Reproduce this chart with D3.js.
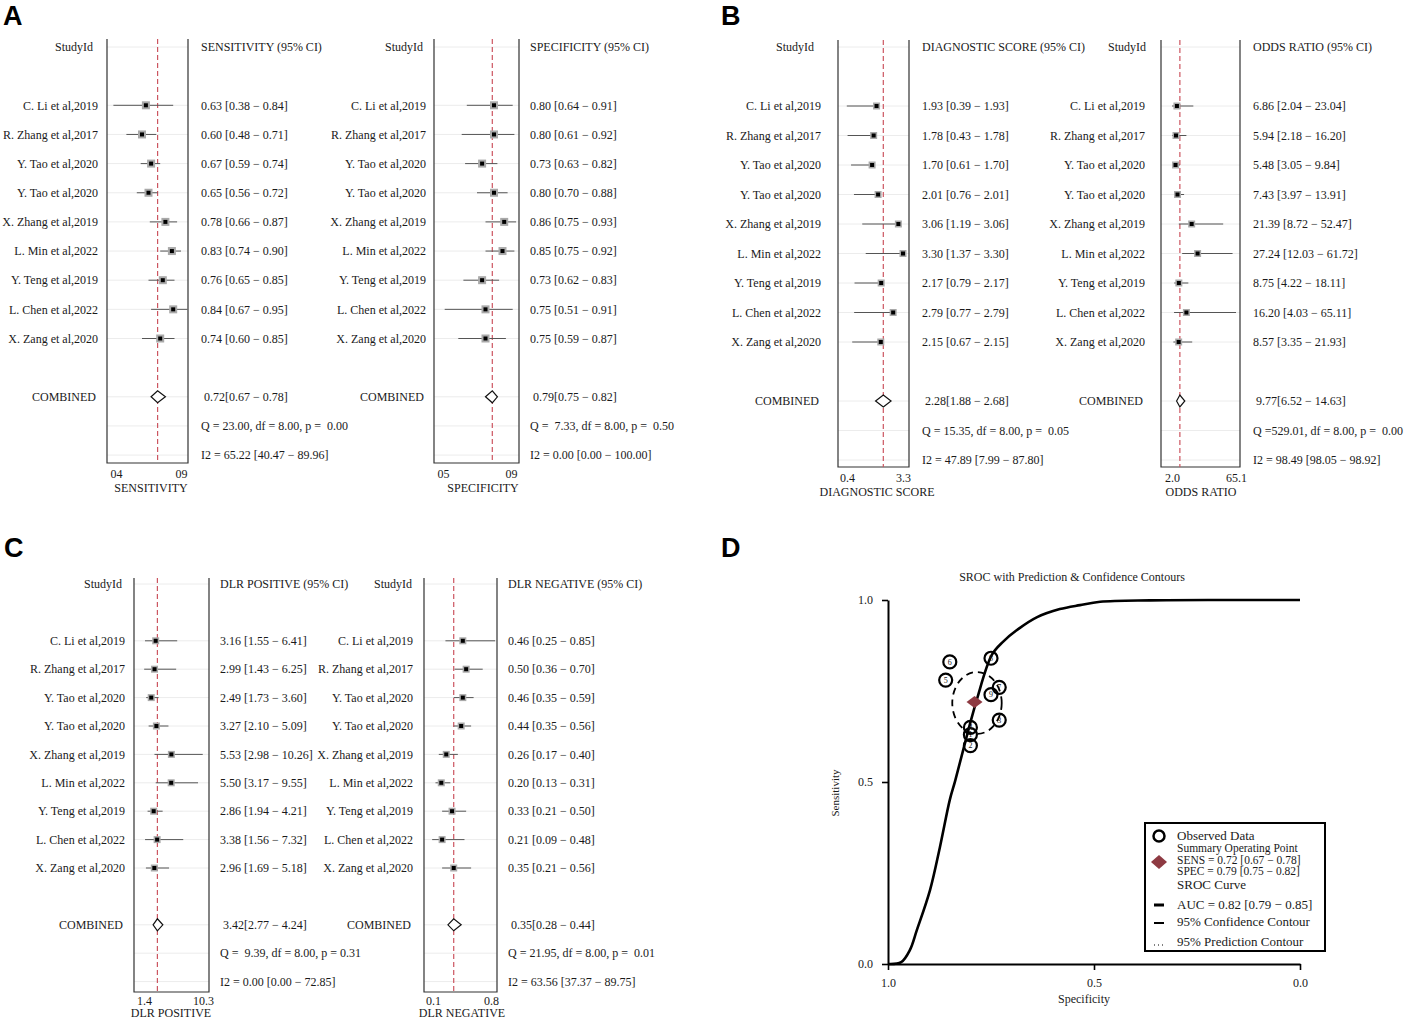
<!DOCTYPE html>
<html>
<head>
<meta charset="utf-8">
<script src="https://cdn.jsdelivr.net/npm/d3@7"></script>
<style>
  body { margin: 0; background: #fff; }
  svg text { font-family: "Liberation Serif", "Times New Roman", serif; fill: #1a1a1a; }
  svg text.pre { white-space: pre; }
  svg text.letter { font-family: "Liberation Sans", Arial, sans-serif; font-weight: bold; fill: #000; }
</style>
</head>
<body>
<svg id="chart" width="1417" height="1024"></svg>
<script>
// ---- data ----
const studies = ["C. Li et al,2019", "R. Zhang et al,2017", "Y. Tao et al,2020", "Y. Tao et al,2020",
  "X. Zhang et al,2019", "L. Min et al,2022", "Y. Teng et al,2019", "L. Chen et al,2022", "X. Zang et al,2020"];

// [estimate, lower, upper]
const sensitivity = [[0.63,0.38,0.84],[0.60,0.48,0.71],[0.67,0.59,0.74],[0.65,0.56,0.72],[0.78,0.66,0.87],
  [0.83,0.74,0.90],[0.76,0.65,0.85],[0.84,0.67,0.95],[0.74,0.60,0.85]];
const specificity = [[0.80,0.64,0.91],[0.80,0.61,0.92],[0.73,0.63,0.82],[0.80,0.70,0.88],[0.86,0.75,0.93],
  [0.85,0.75,0.92],[0.73,0.62,0.83],[0.75,0.51,0.91],[0.75,0.59,0.87]];
const diagScore = [[1.93,0.39,1.93],[1.78,0.43,1.78],[1.70,0.61,1.70],[2.01,0.76,2.01],[3.06,1.19,3.06],
  [3.30,1.37,3.30],[2.17,0.79,2.17],[2.79,0.77,2.79],[2.15,0.67,2.15]];
const oddsRatio = [[6.86,2.04,23.04],[5.94,2.18,16.20],[5.48,3.05,9.84],[7.43,3.97,13.91],[21.39,8.72,52.47],
  [27.24,12.03,61.72],[8.75,4.22,18.11],[16.20,4.03,65.11],[8.57,3.35,21.93]];
const dlrPositive = [[3.16,1.55,6.41],[2.99,1.43,6.25],[2.49,1.73,3.60],[3.27,2.10,5.09],[5.53,2.98,10.26],
  [5.50,3.17,9.55],[2.86,1.94,4.21],[3.38,1.56,7.32],[2.96,1.69,5.18]];
const dlrNegative = [[0.46,0.25,0.85],[0.50,0.36,0.70],[0.46,0.35,0.59],[0.44,0.35,0.56],[0.26,0.17,0.40],
  [0.20,0.13,0.31],[0.33,0.21,0.50],[0.21,0.09,0.48],[0.35,0.21,0.56]];

// pooled estimates
const combined = {
  sens: [0.72,0.67,0.78], spec: [0.79,0.75,0.82], diag: [2.28,1.88,2.68],
  or: [9.77,6.52,14.63], dlrp: [3.42,2.77,4.24], dlrn: [0.35,0.28,0.44]
};
const qText = {
  sens: "Q = 23.00, df = 8.00, p =  0.00", spec: "Q =  7.33, df = 8.00, p =  0.50",
  diag: "Q = 15.35, df = 8.00, p =  0.05", or: "Q =529.01, df = 8.00, p =  0.00",
  dlrp: "Q =  9.39, df = 8.00, p = 0.31", dlrn: "Q = 21.95, df = 8.00, p =  0.01"
};
const i2Text = {
  sens: "I2 = 65.22 [40.47 \u2212 89.96]", spec: "I2 = 0.00 [0.00 \u2212 100.00]",
  diag: "I2 = 47.89 [7.99 \u2212 87.80]", or: "I2 = 98.49 [98.05 \u2212 98.92]",
  dlrp: "I2 = 0.00 [0.00 \u2212 72.85]", dlrn: "I2 = 63.56 [37.37 \u2212 89.75]"
};
const tickValues = {
  sens: [0.4,0.9], spec: [0.5,0.9], diag: [0.4,3.3], or: [2.0,65.1], dlrp: [1.4,10.3], dlrn: [0.1,0.8]
};
const tickLabels = {
  sens: ["04","09"], spec: ["05","09"], diag: ["0.4","3.3"], or: ["2.0","65.1"], dlrp: ["1.4","10.3"], dlrn: ["0.1","0.8"]
};

// SROC panel
const studySpec = specificity.map(d => d[0]);
const studySens = sensitivity.map(d => d[0]);
const summaryPoint = [0.79, 0.72]; // [spec, sens]
const srocSpec = [1.000,0.968,0.947,0.930,0.898,0.874,0.850,0.837,0.803,0.784,0.748,0.721,0.684,0.638,0.583,0.534,0.485,0.364,0.180,0.000];
const srocSens = [0.000,0.005,0.038,0.093,0.203,0.321,0.451,0.503,0.651,0.728,0.849,0.885,0.920,0.953,0.975,0.986,0.995,0.999,1.000,1.000];
const confContour = {spec: 0.784, sens: 0.717, rSpec: 0.060, rSens: 0.085};
const legendItems = ["Observed Data", "Summary Operating Point", "SENS = 0.72 [0.67 \u2212 0.78]",
  "SPEC = 0.79 [0.75 \u2212 0.82]", "SROC Curve", "AUC = 0.82 [0.79 \u2212 0.85]",
  "95% Confidence Contour", "95% Prediction Contour"];

const svg = d3.select("#chart");
svg.append("rect").attr("width", 1417).attr("height", 1024).attr("fill", "#fff");

const f2 = d3.format(".2f");
const red = "#cc5560";

// draws one forest sub-plot
function forest(key, data, header, title, L) {
  const g = svg.append("g");
  const x = d3.scaleLinear().domain(tickValues[key]).range(L.ticks);
  const y = d3.scaleLinear().domain([0, 14]).range([L.row0, L.row0 + 14 * L.step]);
  const rows = [0, 2, 3, 4, 5, 6, 7, 8, 9, 10, 12, 13, 14];

  // faint row lines
  g.selectAll(".grid").data(rows).join("line")
    .attr("x1", L.boxL).attr("x2", L.boxR)
    .attr("y1", d => y(d)).attr("y2", d => y(d))
    .attr("stroke", "#ececec").attr("stroke-width", 1);

  // frame
  g.append("path")
    .attr("d", `M${L.boxL},${L.top}V${L.bottom}H${L.boxR}V${L.top}`)
    .attr("fill", "none").attr("stroke", "#333").attr("stroke-width", 1.2);

  // pooled reference line
  g.append("line")
    .attr("x1", x(combined[key][0])).attr("x2", x(combined[key][0]))
    .attr("y1", L.top).attr("y2", L.bottom)
    .attr("stroke", red).attr("stroke-width", 1.2).attr("stroke-dasharray", "5,3");

  // CI lines
  g.selectAll(".ci").data(data).join("line")
    .attr("x1", d => x(d[1])).attr("x2", d => x(d[2]))
    .attr("y1", (d, i) => y(i + 2)).attr("y2", (d, i) => y(i + 2))
    .attr("stroke", "#555").attr("stroke-width", 1);

  // squares
  const s = L.sq;
  g.selectAll(".sq").data(data).join("rect")
    .attr("x", d => x(d[0]) - s / 2).attr("y", (d, i) => y(i + 2) - s / 2)
    .attr("width", s).attr("height", s).attr("fill", "#a9a9a9");
  g.selectAll(".dot").data(data).join("rect")
    .attr("x", d => x(d[0]) - 2).attr("y", (d, i) => y(i + 2) - 2)
    .attr("width", 4).attr("height", 4).attr("fill", "#000");

  // diamond
  const c = combined[key], yc = y(12);
  g.append("path")
    .attr("d", `M${x(c[1])},${yc}L${x(c[0])},${yc - 6}L${x(c[2])},${yc}L${x(c[0])},${yc + 6}Z`)
    .attr("fill", "#fff").attr("stroke", "#111").attr("stroke-width", 1.2);

  // study names
  const names = g.append("g").attr("text-anchor", "end").attr("font-size", 12);
  names.append("text").attr("x", L.headerRight).attr("y", y(0)).attr("dy", "0.35em").text("StudyId");
  names.selectAll(".nm").data(studies).join("text")
    .attr("x", L.nameRight).attr("y", (d, i) => y(i + 2)).attr("dy", "0.35em").text(d => d);
  names.append("text").attr("x", L.nameRight - 2).attr("y", y(12)).attr("dy", "0.35em").text("COMBINED");

  // value column
  const vals = g.append("g").attr("font-size", 12);
  vals.append("text").attr("x", L.textX).attr("y", y(0)).attr("dy", "0.35em").text(header);
  vals.selectAll(".vl").data(data).join("text")
    .attr("x", L.textX).attr("y", (d, i) => y(i + 2)).attr("dy", "0.35em")
    .text(d => `${f2(d[0])} [${f2(d[1])} \u2212 ${f2(d[2])}]`);
  vals.append("text").attr("x", L.textX + 3).attr("y", y(12)).attr("dy", "0.35em")
    .text(`${f2(c[0])}[${f2(c[1])} \u2212 ${f2(c[2])}]`);
  vals.append("text").attr("class", "pre").attr("xml:space", "preserve")
    .attr("x", L.textX).attr("y", y(13)).attr("dy", "0.35em").text(qText[key]);
  vals.append("text").attr("x", L.textX).attr("y", y(14)).attr("dy", "0.35em").text(i2Text[key]);

  // axis
  const ax = g.append("g").attr("transform", `translate(0,${L.bottom})`)
    .call(d3.axisBottom(x).tickValues(tickValues[key]).tickSize(0).tickPadding(0)
      .tickFormat((d, i) => tickLabels[key][i]));
  ax.select(".domain").remove();
  ax.selectAll("text").attr("font-size", 12).attr("y", L.tickY - L.bottom).attr("dy", 0)
    .attr("font-family", "Liberation Serif, serif").attr("fill", "#1a1a1a");
  g.append("text").attr("x", L.titleX).attr("y", L.titleY).attr("text-anchor", "middle")
    .attr("font-size", 12).text(title);
}

forest("sens", sensitivity, "SENSITIVITY (95% CI)", "SENSITIVITY",
  {nameRight: 98, headerRight: 93, boxL: 107, boxR: 188, top: 39, bottom: 463, ticks: [116, 181],
   textX: 201, row0: 47, step: 29.15, sq: 8, tickY: 478, titleX: 151, titleY: 492});
forest("spec", specificity, "SPECIFICITY (95% CI)", "SPECIFICITY",
  {nameRight: 426, headerRight: 423, boxL: 434, boxR: 519, top: 39, bottom: 463, ticks: [443, 511],
   textX: 530, row0: 47, step: 29.15, sq: 8, tickY: 478, titleX: 483, titleY: 492});
forest("diag", diagScore, "DIAGNOSTIC SCORE (95% CI)", "DIAGNOSTIC SCORE",
  {nameRight: 821, headerRight: 814, boxL: 838, boxR: 909, top: 40, bottom: 467, ticks: [847, 903],
   textX: 922, row0: 47, step: 29.5, sq: 7, tickY: 482, titleX: 877, titleY: 496});
forest("or", oddsRatio, "ODDS RATIO (95% CI)", "ODDS RATIO",
  {nameRight: 1145, headerRight: 1146, boxL: 1161, boxR: 1240, top: 40, bottom: 467, ticks: [1172, 1236],
   textX: 1253, row0: 47, step: 29.5, sq: 7, tickY: 482, titleX: 1201, titleY: 496});
forest("dlrp", dlrPositive, "DLR POSITIVE (95% CI)", "DLR POSITIVE",
  {nameRight: 125, headerRight: 122, boxL: 134, boxR: 209, top: 578, bottom: 992, ticks: [144, 203],
   textX: 220, row0: 584, step: 28.4, sq: 7, tickY: 1005, titleX: 171, titleY: 1017});
forest("dlrn", dlrNegative, "DLR NEGATIVE (95% CI)", "DLR NEGATIVE",
  {nameRight: 413, headerRight: 412, boxL: 424, boxR: 497, top: 578, bottom: 992, ticks: [433, 491],
   textX: 508, row0: 584, step: 28.4, sq: 7, tickY: 1005, titleX: 462, titleY: 1017});

// ---- panel D: SROC ----
const gx = d3.scaleLinear().domain([1, 0]).range([888, 1300]);
const gy = d3.scaleLinear().domain([0, 1]).range([964, 600]);
const d = svg.append("g");

d.append("text").attr("x", 1072).attr("y", 581).attr("text-anchor", "middle")
  .attr("font-size", 12).attr("fill", "#333").text("SROC with Prediction & Confidence Contours");

const yAx = d.append("g").attr("transform", "translate(888,0)")
  .call(d3.axisLeft(gy).tickValues([0, 0.5, 1]).tickFormat(d3.format(".1f")).tickSize(6).tickSizeOuter(0).tickPadding(9));
const xAx = d.append("g").attr("transform", "translate(0,964)")
  .call(d3.axisBottom(gx).tickValues([1, 0.5, 0]).tickFormat(d3.format(".1f")).tickSize(6).tickSizeOuter(0).tickPadding(8));
[yAx, xAx].forEach(a => {
  a.select(".domain").attr("stroke", "#000").attr("stroke-width", 2);
  a.selectAll(".tick line").attr("stroke", "#000").attr("stroke-width", 1.6);
  a.selectAll("text").attr("font-size", 12).attr("font-family", "Liberation Serif, serif").attr("fill", "#1a1a1a");
});
d.append("text").attr("transform", "translate(839,793) rotate(-90)").attr("text-anchor", "middle")
  .attr("font-size", 11).text("Sensitivity");
d.append("text").attr("x", 1084).attr("y", 1003).attr("text-anchor", "middle")
  .attr("font-size", 12).text("Specificity");

// SROC curve
d.append("path")
  .datum(srocSpec.map((s, i) => [s, srocSens[i]]))
  .attr("fill", "none").attr("stroke", "#000").attr("stroke-width", 2.6)
  .attr("d", d3.line().x(p => gx(p[0])).y(p => gy(p[1])).curve(d3.curveCatmullRom));

// confidence contour
d.append("ellipse")
  .attr("cx", gx(confContour.spec)).attr("cy", gy(confContour.sens))
  .attr("rx", Math.abs(gx(confContour.spec + confContour.rSpec) - gx(confContour.spec)))
  .attr("ry", Math.abs(gy(confContour.sens + confContour.rSens) - gy(confContour.sens)))
  .attr("fill", "none").attr("stroke", "#000").attr("stroke-width", 1.8).attr("stroke-dasharray", "7,5");

// observed studies
const obs = d.selectAll(".obs").data(studySpec).join("g")
  .attr("transform", (s, i) => `translate(${gx(s)},${gy(studySens[i])})`);
obs.append("circle").attr("r", 6.5).attr("fill", "none").attr("stroke", "#000").attr("stroke-width", 2.2);
obs.append("text").attr("text-anchor", "middle").attr("dy", "0.35em").attr("font-size", 8)
  .attr("fill", "#444").text((s, i) => i + 1);

// summary point
const sx = gx(summaryPoint[0]), sy = gy(summaryPoint[1]);
d.append("path").attr("d", `M${sx - 8},${sy}L${sx},${sy - 6}L${sx + 8},${sy}L${sx},${sy + 6}Z`)
  .attr("fill", "#8e3a42");

// legend
const lg = d.append("g");
lg.append("rect").attr("x", 1145).attr("y", 823).attr("width", 180).attr("height", 128)
  .attr("fill", "#fff").attr("stroke", "#000").attr("stroke-width", 2);
lg.append("circle").attr("cx", 1159).attr("cy", 836).attr("r", 5.5).attr("fill", "#fff")
  .attr("stroke", "#000").attr("stroke-width", 2.5);
lg.append("path").attr("d", "M1151,862L1159,855L1167,862L1159,869Z").attr("fill", "#8e3a42");
lg.append("line").attr("x1", 1154).attr("x2", 1164).attr("y1", 905).attr("y2", 905)
  .attr("stroke", "#000").attr("stroke-width", 3);
lg.append("line").attr("x1", 1154).attr("x2", 1164).attr("y1", 923).attr("y2", 923)
  .attr("stroke", "#000").attr("stroke-width", 2);
lg.append("line").attr("x1", 1154).attr("x2", 1164).attr("y1", 945).attr("y2", 945)
  .attr("stroke", "#000").attr("stroke-width", 1).attr("stroke-dasharray", "1,3");
const legendY = [840, 852, 863.5, 875, 889, 909, 926, 946];
const legendSize = [13, 11.5, 11.5, 11.5, 13, 13, 13, 13];
lg.selectAll(".lt").data(legendItems).join("text")
  .attr("x", 1177).attr("y", (t, i) => legendY[i]).attr("font-size", (t, i) => legendSize[i]).text(t => t);

// panel letters
[["A", 3, 25], ["B", 721, 25], ["C", 4, 557], ["D", 721, 557]].forEach(p => {
  svg.append("text").attr("class", "letter").attr("x", p[1]).attr("y", p[2])
    .attr("font-size", 27).text(p[0]);
});
</script>
</body>
</html>
